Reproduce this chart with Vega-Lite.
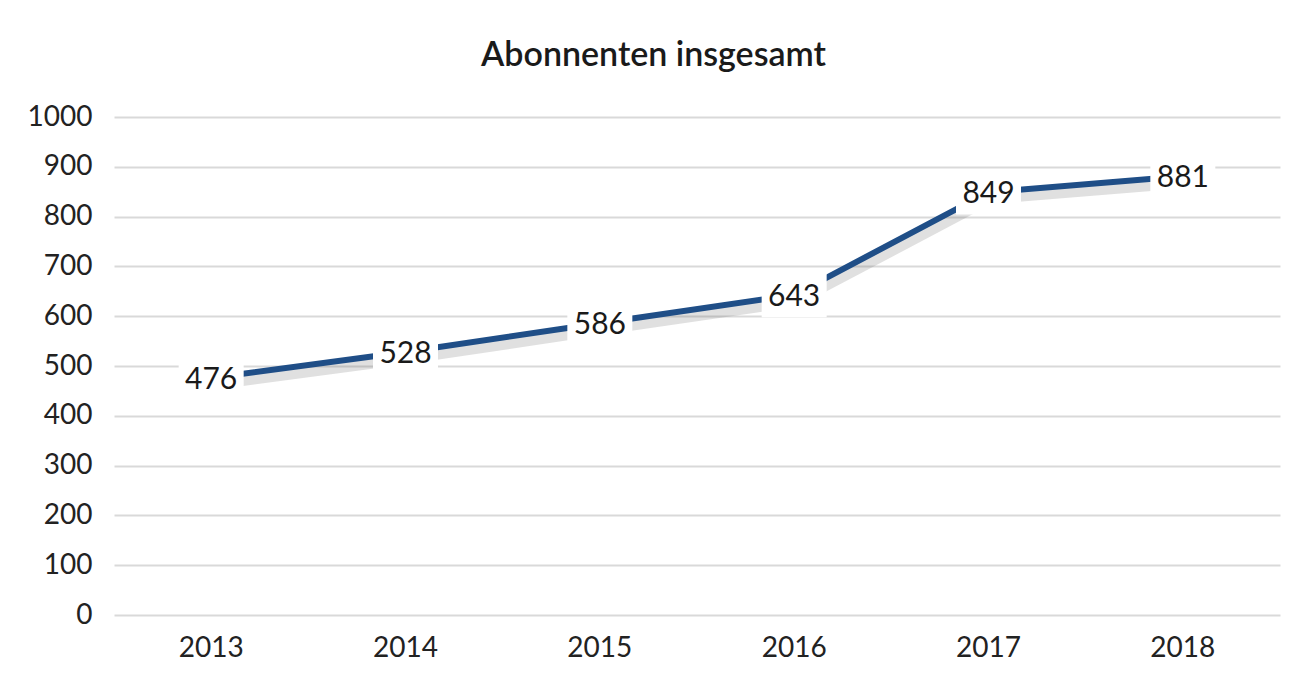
{
  "$schema": "https://vega.github.io/schema/vega-lite/v6.json",
  "autosize": "none",
  "width": 1166,
  "height": 498,
  "padding": {"left": 114, "top": 117, "right": 24, "bottom": 65},
  "background": "white",
  "title": {
    "text": "Abonnenten insgesamt",
    "frame": "bounds",
    "anchor": "middle",
    "font": "Lato",
    "fontSize": 34,
    "fontWeight": 600,
    "color": "#1a1a1a",
    "offset": 30
  },
  "data": {
    "values": [
      {"Jahr": "2013", "Abonnenten": 476},
      {"Jahr": "2014", "Abonnenten": 528},
      {"Jahr": "2015", "Abonnenten": 586},
      {"Jahr": "2016", "Abonnenten": 643},
      {"Jahr": "2017", "Abonnenten": 849},
      {"Jahr": "2018", "Abonnenten": 881}
    ]
  },
  "encoding": {
    "x": {
      "field": "Jahr",
      "type": "ordinal",
      "scale": {"type": "band", "paddingInner": 0, "paddingOuter": 0},
      "axis": {
        "title": null,
        "labelAngle": 0,
        "labelFont": "Lato",
        "labelFontSize": 28,
        "labelColor": "#222",
        "labelPadding": 19,
        "domain": false,
        "ticks": false,
        "grid": false
      }
    },
    "y": {
      "field": "Abonnenten",
      "type": "quantitative",
      "scale": {"domain": [0, 1000]},
      "axis": {
        "title": null,
        "format": "d",
        "values": [0, 100, 200, 300, 400, 500, 600, 700, 800, 900, 1000],
        "labelFont": "Lato",
        "labelFontSize": 28,
        "labelColor": "#222",
        "labelPadding": 22,
        "domain": false,
        "ticks": false,
        "grid": true,
        "gridColor": "#d9d9d9",
        "gridWidth": 2
      }
    }
  },
  "layer": [
    {
      "mark": {"type": "line", "stroke": "#666", "strokeWidth": 10, "opacity": 0.2, "yOffset": 7, "xOffset": 2}
    },
    {
      "mark": {"type": "line", "stroke": "#1f4e87", "strokeWidth": 6}
    },
    {
      "mark": {"type": "point", "shape": "M-1,-0.69H1V0.69H-1Z", "size": 4225, "filled": true, "fill": "white", "opacity": 1, "strokeWidth": 0}
    },
    {
      "mark": {"type": "text", "font": "Lato", "fontSize": 30, "color": "#1a1a1a", "baseline": "middle", "align": "center", "dy": 2},
      "encoding": {"text": {"field": "Abonnenten", "type": "quantitative"}}
    }
  ],
  "config": {"view": {"stroke": null}}
}
